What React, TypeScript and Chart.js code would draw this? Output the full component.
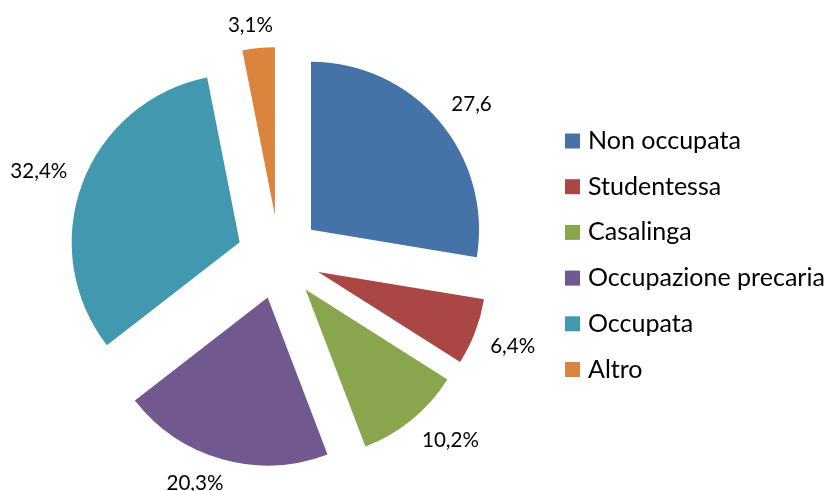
import React, { useEffect, useRef } from "react";
import { Chart, registerables } from "chart.js";

Chart.register(...registerables);

const categories = [
  "Non occupata",
  "Studentessa",
  "Casalinga",
  "Occupazione precaria",
  "Occupata",
  "Altro",
];
const values = [27.6, 6.4, 10.2, 20.3, 32.4, 3.1];
const valueLabels = ["27,6", "6,4%", "10,2%", "20,3%", "32,4%", "3,1%"];
const colors = ["#4572A7", "#AA4643", "#89A54E", "#71588F", "#4198AF", "#DB843D"];

const FONT = "Lato, 'Open Sans', sans-serif";
const EXPLODE = 42;
const RADIUS = 168;

function fitFont(ctx: CanvasRenderingContext2D, text: string, target: number) {
  ctx.font = `100px ${FONT}`;
  const w = ctx.measureText(text).width;
  return (100 * target) / w;
}

const clamp1 = (v: number) => Math.max(-1, Math.min(1, v));

const explodePlugin = {
  id: "explode",
  beforeDatasetDraw(chart: any, args: any) {
    const ctx = chart.ctx;
    const meta = chart.getDatasetMeta(args.index);
    meta.data.forEach((arc: any) => {
      const mid = (arc.startAngle + arc.endAngle) / 2;
      ctx.save();
      ctx.translate(Math.cos(mid) * EXPLODE, Math.sin(mid) * EXPLODE);
      arc.draw(ctx);
      ctx.restore();
    });
    return false;
  },
};

const labelPlugin = {
  id: "sliceLabels",
  afterDraw(chart: any) {
    const ctx = chart.ctx;
    const meta = chart.getDatasetMeta(0);
    ctx.save();
    const size = fitFont(ctx, "32,4%", 57);
    ctx.font = `${size}px ${FONT}`;
    ctx.fillStyle = "#000000";
    ctx.textAlign = "center";
    ctx.textBaseline = "alphabetic";
    const h = 15;
    const gap = 16;
    meta.data.forEach((arc: any, i: number) => {
      const { x, y, startAngle, endAngle, outerRadius } = arc.getProps(
        ["x", "y", "startAngle", "endAngle", "outerRadius"],
        true
      );
      const mid = (startAngle + endAngle) / 2;
      const dx = Math.cos(mid);
      const dy = Math.sin(mid);
      const cx = x + dx * EXPLODE;
      const cy = y + dy * EXPLODE;
      const text = valueLabels[i];
      const w = ctx.measureText(text).width;
      const d = outerRadius + gap;
      const lx = cx + dx * d + clamp1(3 * dx) * (w / 2);
      const ly = cy + dy * d + clamp1(3 * dy) * (h / 2);
      ctx.fillText(text, lx, ly + 7.5);
    });
    ctx.restore();
  },
};

const legendPlugin = {
  id: "sideLegend",
  afterDraw(chart: any) {
    const ctx = chart.ctx;
    const labels = chart.data.labels as string[];
    const bg = chart.data.datasets[0].backgroundColor as string[];
    ctx.save();
    const size = fitFont(ctx, "Occupazione precaria", 237);
    ctx.font = `${size}px ${FONT}`;
    ctx.textAlign = "left";
    ctx.textBaseline = "alphabetic";
    labels.forEach((lab, i) => {
      const cy = 141 + i * 45.7;
      ctx.fillStyle = bg[i];
      ctx.fillRect(565, cy - 7.5, 15, 15);
      ctx.fillStyle = "#000000";
      ctx.fillText(lab, 588, cy + 8);
    });
    ctx.restore();
  },
};

export default function App() {
  const ref = useRef<HTMLCanvasElement | null>(null);

  useEffect(() => {
    if (!ref.current) return;
    const chart = new Chart(ref.current, {
      type: "pie",
      data: {
        labels: categories,
        datasets: [
          {
            data: values,
            backgroundColor: colors,
            borderWidth: 0,
            hoverOffset: 0,
          },
        ],
      },
      options: {
        responsive: false,
        animation: false,
        events: [],
        radius: RADIUS,
        layout: { padding: { left: 0, right: 272, top: 23, bottom: 0 } },
        plugins: {
          legend: { display: false },
          tooltip: { enabled: false },
          title: { display: false },
        },
      } as any,
      plugins: [explodePlugin, labelPlugin, legendPlugin],
    });
    return () => chart.destroy();
  }, []);

  return (
    <div style={{ position: "absolute", left: 0, top: 0, width: 830, height: 491, background: "#ffffff" }}>
      <canvas ref={ref} width={830} height={491} style={{ display: "block" }} />
    </div>
  );
}
